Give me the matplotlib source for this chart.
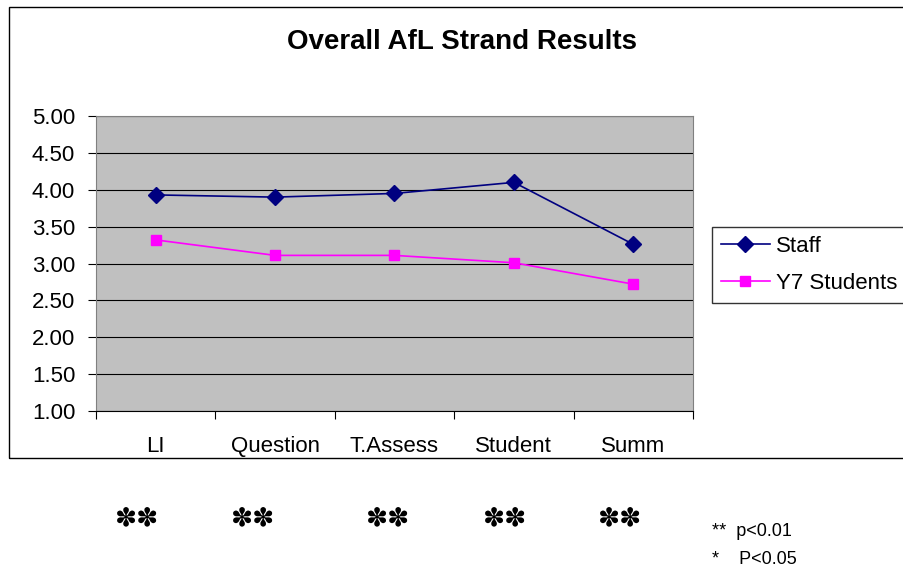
import numpy as np
import matplotlib
matplotlib.use("Agg")
import matplotlib.pyplot as plt
from matplotlib.patches import Rectangle
from matplotlib.ticker import FixedLocator, FormatStrFormatter

plt.rcParams['font.family'] = ['Liberation Sans', 'DejaVu Sans']

categories = ["LI", "Question", "T.Assess", "Student", "Summ"]
staff = [3.93, 3.90, 3.95, 4.10, 3.26]
y7_students = [3.32, 3.11, 3.11, 3.01, 2.72]
significance = ["\u273d\u273d"] * 5
sig_x = [137, 253, 388, 505, 620]  # pixel centres of the asterisks

W, H = 904, 575
fig = plt.figure(figsize=(W / 100, H / 100), dpi=100)

# outer chart border
fig.patches.append(Rectangle((9 / W, 1 - 458 / H), (W + 5 - 9) / W, (458 - 7) / H,
                             transform=fig.transFigure, fill=False,
                             edgecolor="black", linewidth=1.0, clip_on=False))

ax = fig.add_axes([96 / W, 1 - 411 / H, (693 - 96) / W, (411 - 116) / H])
ax.set_facecolor("#C0C0C0")

x = np.arange(len(categories)) + 0.5
ax.plot(x, staff, color="#000080", marker="D", markersize=8, linewidth=1.2, label="Staff")
ax.plot(x, y7_students, color="#FF00FF", marker="s", markersize=7.5, linewidth=1.2,
        label="Y7 Students")

ax.set_xlim(0, len(categories))
ax.set_ylim(1.0, 5.0)
ax.set_yticks(np.arange(1.0, 5.01, 0.5))
ax.yaxis.set_major_formatter(FormatStrFormatter("%.2f"))
ax.yaxis.grid(True, color="black", linewidth=0.8)
ax.set_axisbelow(True)

ax.xaxis.set_major_locator(FixedLocator(np.arange(len(categories) + 1)))
ax.xaxis.set_minor_locator(FixedLocator(x))
ax.set_xticklabels([])
ax.set_xticklabels(categories, minor=True)
ax.tick_params(axis="x", which="minor", length=0, pad=18, labelsize=16)
ax.tick_params(axis="x", which="major", length=6, width=0.8, direction="out")
ax.tick_params(axis="y", length=6, width=0.8, direction="out", labelsize=16, pad=9)

for side in ["top", "right"]:
    ax.spines[side].set_color("#808080")
ax.spines["left"].set_color("#808080")
ax.spines["bottom"].set_color("black")

fig.text(462 / W, 1 - 42 / H, "Overall AfL Strand Results", ha="center", va="center",
         fontsize=20, fontweight="bold")

leg = fig.legend(loc="upper left", bbox_to_anchor=(712 / W, 1 - 227 / H),
                 fontsize=16, frameon=True, fancybox=False, handlelength=2.2,
                 borderpad=0.4, labelspacing=0.72, handletextpad=0.3, borderaxespad=0)
leg.get_frame().set_edgecolor("black")
leg.get_frame().set_linewidth(1.0)

for xs, s in zip(sig_x, significance):
    fig.text(xs / W, 1 - 518 / H, s, ha="center", va="center", fontsize=19,
             family=["DejaVu Sans"])

fig.text(712 / W, 1 - 532 / H, "**  p<0.01", ha="left", va="center", fontsize=13,
         family=["Liberation Sans Narrow", "Liberation Sans"])
fig.text(712 / W, 1 - 559 / H, "*    P<0.05", ha="left", va="center", fontsize=13,
         family=["Liberation Sans Narrow", "Liberation Sans"])

fig.savefig("out.png", dpi=100, facecolor="white")
